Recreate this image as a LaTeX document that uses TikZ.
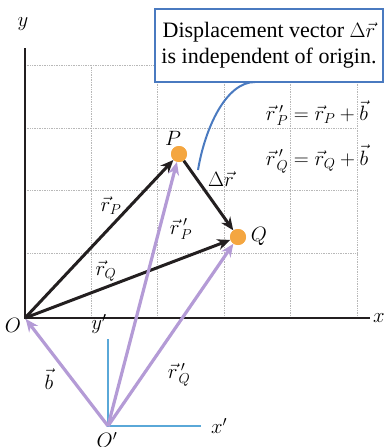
\documentclass[tikz,border=0pt]{standalone}
\usepackage{fontspec}
\setmainfont{Liberation Serif}
\usetikzlibrary{arrows.meta}
\definecolor{vblack}{HTML}{231F20}
\definecolor{vpurple}{HTML}{B49BD6}
\definecolor{vorange}{HTML}{F4A640}
\definecolor{vblue}{HTML}{4A7AC0}
\definecolor{vlblue}{HTML}{5AA8D8}
\definecolor{gridgray}{HTML}{B8B8B8}
\begin{document}
\begin{tikzpicture}[x=1pt,y=-1pt,
  gridline/.style={gridgray, line width=0.7pt, densely dotted},
  axisline/.style={vblack, line width=1.3pt},
  blackvec/.style={vblack, line width=3pt, -{Stealth[length=13pt,width=11pt]}},
  purplevec/.style={vpurple, line width=3.2pt, -{Stealth[length=13pt,width=11pt]}},
  primeaxis/.style={vlblue, line width=1.2pt},
  dot/.style={circle, fill=vorange, minimum size=16pt, inner sep=0pt},
  lbl/.style={font=\fontsize{20}{24}\selectfont, inner sep=0pt},
  eqlbl/.style={font=\fontsize{21}{25}\selectfont, inner sep=0pt},
  callout/.style={draw=vblue, line width=2.5pt, fill=white, align=center,
    minimum width=228pt, minimum height=73pt, inner sep=2pt,
    font=\fontsize{22}{26}\selectfont},
]
\useasboundingbox (0,0) rectangle (386,447);
% grid
\foreach \gx in {91,157,224,290,357} \draw[gridline] (\gx,65) -- (\gx,318);
\foreach \gy in {65,128,190,253} \draw[gridline] (25,\gy) -- (357,\gy);
% axes
\coordinate (O) at (25,318);
\coordinate (ytop) at (25,48);
\coordinate (xend) at (370,318);
\draw[axisline] (ytop) -- (O) -- (xend);
\node[lbl] (ylab) at (23,24) {$y$};
\node[lbl] (xlab) at (379,318) {$x$};
\node[lbl] (Olab) at (13,325) {$O$};
% primed axes
\coordinate (Op) at (108,426);
\coordinate (ypend) at (108,339);
\coordinate (xpend) at (201,426);
\draw[primeaxis] (ypend) -- (Op) -- (xpend);
\node[lbl] (yplab) at (99,324) {$y'$};
\node[lbl] (xplab) at (219,426) {$x'$};
\node[lbl] (Oplab) at (107,440) {$O'$};
% points
\node[dot] (P) at (179,154) {};
\node[dot] (Q) at (238,237) {};
% black vectors
\draw[blackvec] (O) -- (P);
\draw[blackvec] (O) -- (Q);
\draw[blackvec] (P) -- (Q);
% purple vectors
\draw[purplevec] (Op) -- (P);
\draw[purplevec] (Op) -- (Q);
\draw[purplevec, shorten >=1pt] (Op) -- (O);
% redraw dots on top
\node[dot] at (P) {};
\node[dot] at (Q) {};
% labels
\node[lbl] (Plab) at (173,138) {$P$};
\node[lbl] (Qlab) at (259,236) {$Q$};
\node[lbl] (drlab) at (221,179) {$\Delta\vec r$};
\node[lbl] (rPlab) at (111,206) {$\vec r_P$};
\node[lbl] (rQlab) at (106,271) {$\vec r_Q$};
\node[lbl] (rpPlab) at (181,229) {$\vec r\,'_{\!P}$};
\node[lbl] (rpQlab) at (179,375) {$\vec r\,'_{\!Q}$};
\node[lbl] (blab) at (49,379) {$\vec b$};
% equations
\node[eqlbl] (eq1) at (317,113) {$\vec r\,'_{\!P} = \vec r_P + \vec b$};
\node[eqlbl] (eq2) at (317,159) {$\vec r\,'_{\!Q} = \vec r_Q + \vec b$};
% callout
\node[callout] (box) at (269,45.5) {Displacement vector $\Delta\vec r$\\is independent of origin.};
\coordinate (cs) at (255,82);
\coordinate (ce) at (198,170);
\draw[vblue, line width=2pt] (cs) .. controls (226,82) and (205,128) .. (ce);
\end{tikzpicture}
\end{document}
